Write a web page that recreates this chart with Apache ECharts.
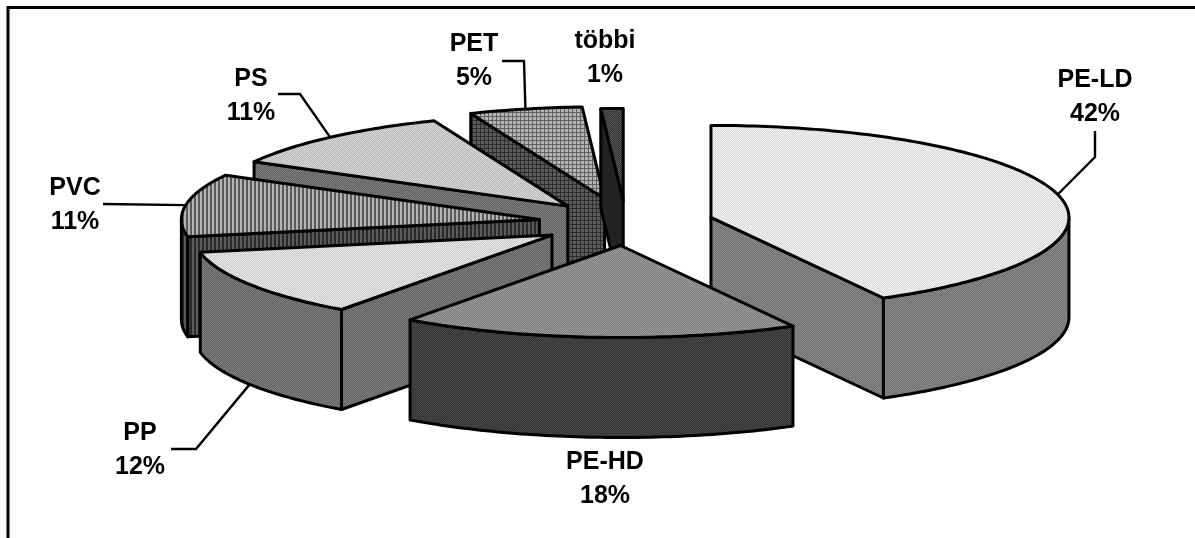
<!DOCTYPE html>
<html>
<head>
<meta charset="utf-8">
<style>
  html, body { margin: 0; padding: 0; background: #fff; }
  #main { width: 1195px; height: 538px; }
</style>
</head>
<body>
<div id="main"></div>
<script src="https://cdn.jsdelivr.net/npm/echarts@6/dist/echarts.min.js"></script>
<script>
const categories = ['PE-LD', 'PE-HD', 'PP', 'PVC', 'PS', 'PET', 'többi']
const shares = [42, 18, 12, 11, 10.9, 5.1, 1]

// layout of the tilted pie, px
const cx = 626, cy = 223, rx = 358, ry = 92, depth = 100
const explode = [0.245, 0.245, 0.245, 0.245, 0.245, 0.27, 0.245]

// label centres and leader knees, px
const labelX = [1095, 605, 140, 75, 251, 474, 605]
const labelY = [97, 479, 450, 205, 96, 61, 58]
const leaders = [
  { from: 'top', knees: [[1095, 157], [1095, 131]] },
  null,
  { from: 'bottom', knees: [[196, 449], [171, 449]] },
  { from: 'top', knees: [[103, 204]] },
  { from: 'top', knees: [[300, 94], [278, 94]] },
  { from: 'top', knees: [[524, 61], [502, 61]] },
  null
]

// small pixel tiles standing in for the Excel print patterns
function tile (w, h, pick) {
  const c = document.createElement('canvas')
  c.width = w
  c.height = h
  const ctx = c.getContext('2d')
  for (let y = 0; y < h; y++) {
    for (let x = 0; x < w; x++) {
      ctx.fillStyle = pick(x, y)
      ctx.fillRect(x, y, 1, 1)
    }
  }
  return { image: c, repeat: 'repeat' }
}
const dots = (a, b) => tile(4, 4, (x, y) => ((x + y) % 2 === 0 ? a : b))
const stripes = (a, b) => tile(4, 1, x => (x < 2 ? a : b))
const plaid = (a, b) => tile(4, 4, (x, y) => (x === 0 || y === 0 ? b : a))

const topFills = [
  dots('#f2f2f2', '#d8d8d8'),
  dots('#9c9c9c', '#7c7c7c'),
  dots('#ececec', '#c6c6c6'),
  stripes('#b4b4b4', '#5a5a5a'),
  dots('#dadada', '#b6b6b6'),
  plaid('#b4b4b4', '#606060'),
  dots('#5a5a5a', '#303030')
]
const wallFills = [
  dots('#8a8a8a', '#707070'),
  dots('#4a4a4a', '#323232'),
  dots('#808080', '#606060'),
  stripes('#5c5c5c', '#2a2a2a'),
  dots('#808080', '#606060'),
  plaid('#5c5c5c', '#2c2c2c'),
  dots('#2a2a2a', '#1a1a1a')
]

const rad = d => d * Math.PI / 180
let acc = 0
const startAngles = shares.map(v => { const a = acc; acc += v * 3.6; return a })

// point on the rim of the ellipse, angle clockwise from the top
const rim = (ax, ay, a) => [ax + Math.sin(rad(a)) * rx, ay - Math.cos(rad(a)) * ry]

function arcPoints (ax, ay, a0, a1) {
  const pts = []
  const n = Math.max(2, Math.ceil(Math.abs(a1 - a0)))
  for (let k = 0; k <= n; k++) pts.push(rim(ax, ay, a0 + (a1 - a0) * k / n))
  return pts
}

function face (points, fill, z2) {
  return {
    type: 'polygon',
    z2,
    shape: { points },
    style: { fill, stroke: '#000', lineWidth: 3, lineJoin: 'round' }
  }
}

function renderItem (params, api) {
  const i = params.dataIndex
  const a0 = api.value(1)
  const a1 = a0 + api.value(0) * 3.6
  const mid = (a0 + a1) / 2
  const ax = cx + Math.sin(rad(mid)) * rx * explode[i]
  const ay = cy - Math.cos(rad(mid)) * ry * explode[i]
  const down = p => [p[0], p[1] + depth]
  // painter's order: slices nearer the viewer sit lower on the page
  const z = Math.round(ay) * 10
  const children = []

  // flat cut walls, only the ones that turn toward the viewer
  const flat = a => {
    const p = rim(ax, ay, a)
    children.push(face([[ax, ay], p, down(p), [ax, ay + depth]], wallFills[i], z))
  }
  if (Math.sin(rad(a0)) < -1e-6) flat(a0)
  if (Math.sin(rad(a1)) > 1e-6 && a1 < 180) flat(a1)

  // outer curved wall, lower half of the ellipse only
  const w0 = Math.max(a0, 90)
  const w1 = Math.min(a1, 270)
  if (w1 > w0) {
    const arc = arcPoints(ax, ay, w0, w1)
    children.push(face(arc.concat(arc.map(down).reverse()), wallFills[i], z + 1))
  }

  // top face
  children.push(face([[ax, ay]].concat(arcPoints(ax, ay, a0, a1)), topFills[i], z + 2))

  // leader line
  const lead = leaders[i]
  if (lead) {
    const start = rim(ax, ay, mid)
    if (lead.from === 'bottom') start[1] += depth
    children.push({
      type: 'polyline',
      z2: 5000,
      shape: { points: [start].concat(lead.knees) },
      style: { fill: null, stroke: '#000', lineWidth: 2.4 }
    })
  }

  // label
  children.push({
    type: 'text',
    z2: 5001,
    x: labelX[i],
    y: labelY[i],
    style: {
      text: categories[i] + '\n' + Math.round(api.value(0)) + '%',
      fill: '#000',
      font: 'bold 25px "Liberation Sans", Arial, sans-serif',
      lineHeight: 34,
      align: 'center',
      verticalAlign: 'middle'
    }
  })

  return { type: 'group', children }
}

const chart = echarts.init(document.getElementById('main'), null, { renderer: 'canvas' })
chart.setOption({
  backgroundColor: '#fff',
  animation: false,
  graphic: [
    { type: 'polyline', shape: { points: [[8, 538], [8, 7.5], [1195, 7.5]] }, style: { fill: null, stroke: '#000', lineWidth: 3 } }
  ],
  series: [
    {
      type: 'custom',
      coordinateSystem: 'none',
      silent: true,
      renderItem,
      data: shares.map((v, i) => [v, startAngles[i]])
    }
  ]
})
</script>
</body>
</html>
